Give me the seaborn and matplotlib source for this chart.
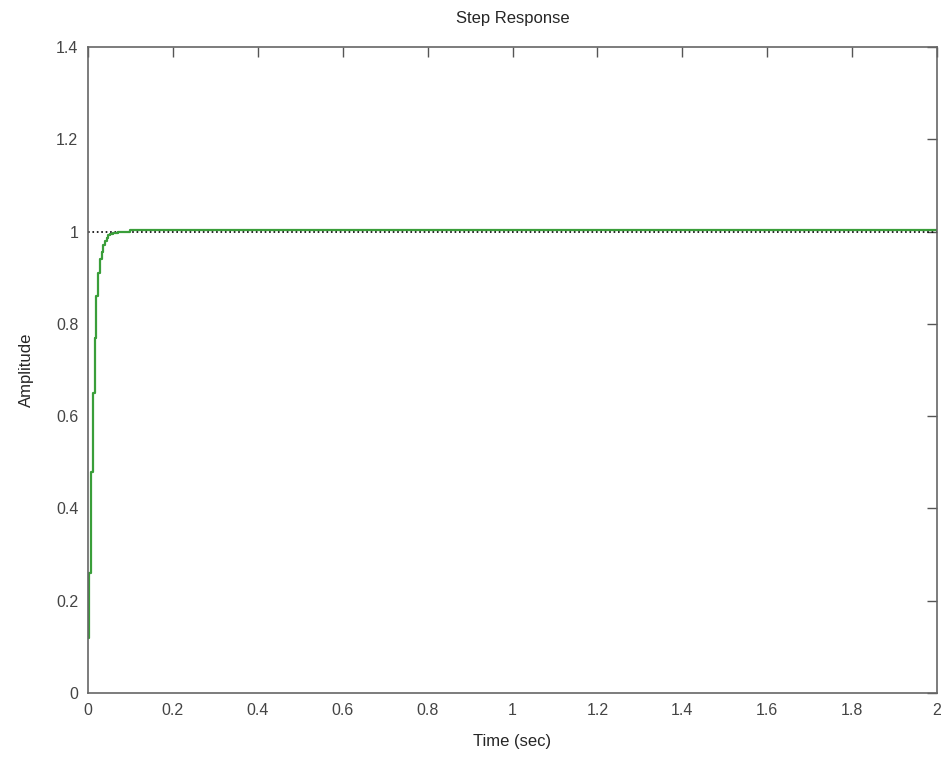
import numpy as np
import matplotlib
matplotlib.use("Agg")
import matplotlib.pyplot as plt
import seaborn as sns
from matplotlib.ticker import FormatStrFormatter

time_sec = [0.0, 0.003, 0.007, 0.011, 0.016, 0.020, 0.024, 0.028, 0.032, 0.036,
            0.040, 0.044, 0.048, 0.052, 0.060, 0.070, 0.080, 0.090, 0.100, 2.0]
amplitude = [0.12, 0.26, 0.48, 0.65, 0.77, 0.86, 0.91, 0.94, 0.955, 0.97,
             0.98, 0.987, 0.992, 0.995, 0.997, 0.998, 0.999, 0.999, 1.003, 1.003]
final_time = [0.0, 2.0]
final_value = [1.0, 1.0]
x_ticks = [0, 0.2, 0.4, 0.6, 0.8, 1, 1.2, 1.4, 1.6, 1.8, 2]
y_ticks = [0, 0.2, 0.4, 0.6, 0.8, 1, 1.2, 1.4]

sns.set_style("white")
plt.rcParams["font.family"] = ["Liberation Sans", "DejaVu Sans"]

fig = plt.figure(figsize=(9.48, 7.65), dpi=100)
ax = fig.add_axes([88 / 948, 1 - 693 / 765, 849 / 948, 646 / 765])

sns.lineplot(x=final_time, y=final_value, ax=ax, color="black",
             linestyle=":", linewidth=1.2)
sns.lineplot(x=time_sec, y=amplitude, ax=ax, color="#3a9e3a",
             linewidth=1.6, drawstyle="steps-post")

ax.set_xlim(0, 2)
ax.set_ylim(0, 1.4)
ax.set_xticks(x_ticks)
ax.set_yticks(y_ticks)
ax.xaxis.set_major_formatter(FormatStrFormatter("%g"))
ax.yaxis.set_major_formatter(FormatStrFormatter("%g"))
ax.tick_params(direction="in", length=7, width=1, colors="#555555",
               labelcolor="#444444", labelsize=11.5, top=True, right=True,
               pad=7)
for s in ax.spines.values():
    s.set_color("#666666")
    s.set_linewidth(1.2)

ax.set_title("Step Response", fontsize=12, pad=17)
ax.set_xlabel("Time (sec)", fontsize=12, labelpad=12)
ax.set_ylabel("Amplitude", fontsize=12, labelpad=16)

fig.savefig("out.png", dpi=100)
